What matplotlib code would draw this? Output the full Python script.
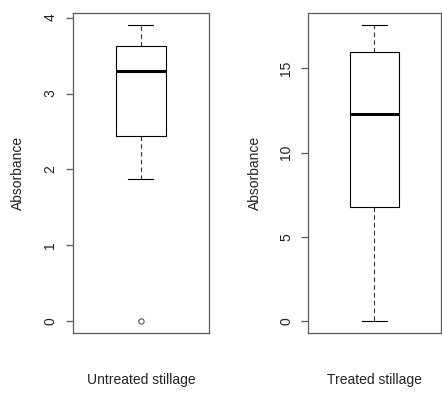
import matplotlib
matplotlib.use("Agg")
import matplotlib.pyplot as plt

plt.rcParams['font.family'] = ['Liberation Sans', 'DejaVu Sans']

# absorbance summary per group: whisker low, Q1, median, Q3, whisker high
groups = ['Untreated stillage', 'Treated stillage']
whisker_low = [1.87, 0.0]
q1 = [2.44, 6.80]
median = [3.30, 12.30]
q3 = [3.63, 15.95]
whisker_high = [3.90, 17.55]
outliers = [[0.0], []]
yticks = [[0, 1, 2, 3, 4], [0, 5, 10, 15]]

frame_col = '#5a5a5a'
text_col = '#222222'

fig = plt.figure(figsize=(4.42, 3.98), dpi=100)
axes_rects = [[0.1645, 0.1626, 0.3084, 0.804],
              [0.6975, 0.1626, 0.2995, 0.804]]

for i, rect in enumerate(axes_rects):
    ax = fig.add_axes(rect)
    stats = [dict(whislo=whisker_low[i], q1=q1[i], med=median[i],
                  q3=q3[i], whishi=whisker_high[i], fliers=outliers[i])]
    ax.bxp(stats, positions=[1], widths=0.37, capwidths=0.185,
           showfliers=True,
           boxprops=dict(color='black', linewidth=0.8),
           medianprops=dict(color='black', linewidth=2.2, solid_capstyle='butt'),
           whiskerprops=dict(color='#333333', linewidth=0.8, linestyle=(0, (4, 3))),
           capprops=dict(color='black', linewidth=0.8),
           flierprops=dict(marker='o', markersize=3.8, markerfacecolor='none',
                           markeredgecolor='#555555', markeredgewidth=0.8))

    # R-style 4% padding around the data range
    lo = min([whisker_low[i]] + outliers[i])
    hi = max([whisker_high[i]] + outliers[i])
    pad = 0.04 * (hi - lo)
    ax.set_ylim(lo - pad, hi + pad)
    ax.set_xlim(0.5, 1.5)

    ax.set_xticks([])
    ax.set_yticks(yticks[i])
    ax.set_yticklabels([str(t) for t in yticks[i]], rotation=90, va='center',
                       fontsize=10, color=text_col)
    ax.tick_params(axis='y', length=5, width=0.9, color=frame_col, pad=6)
    for sp in ax.spines.values():
        sp.set_color(frame_col)
        sp.set_linewidth(0.9)

    ax.set_ylabel('Absorbance', fontsize=10, color=text_col, va='center')
    ax.yaxis.set_label_coords(-0.40, 0.5)
    ax.text(0.5, -0.146, groups[i], transform=ax.transAxes, ha='center',
            va='center', fontsize=10, color=text_col)

fig.savefig('out.png', dpi=100)
